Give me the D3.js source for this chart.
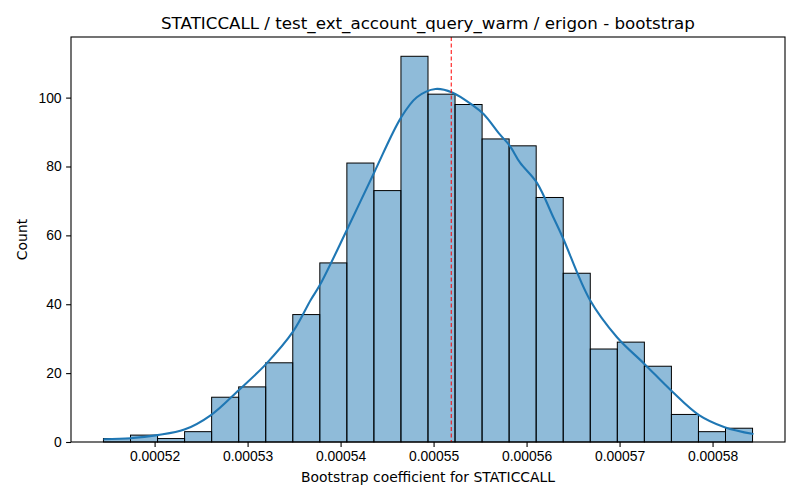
<!DOCTYPE html>
<html>
<head>
<meta charset="utf-8">
<script src="https://cdn.jsdelivr.net/npm/d3@7"></script>
<style>
  body { margin: 0; background: #fff; }
  svg { font-family: "DejaVu Sans", sans-serif; }
  .tick text { font-size: 13.9px; fill: #000; }
</style>
</head>
<body>
<svg id="chart" width="800" height="500"></svg>
<script>
// histogram: 24 equal bins between binLo and binHi
const binLo = 0.0005145;
const binHi = 0.0005843;
const counts = [1, 2, 1, 3, 13, 16, 23, 37, 52, 81, 73, 112,
                101, 98, 88, 86, 71, 49, 27, 29, 22, 8, 3, 4];

// kde curve
const kdeX = [0.0005145, 0.0005174, 0.0005203, 0.0005232, 0.0005261, 0.0005291,
              0.0005319, 0.0005349, 0.0005368, 0.0005378, 0.0005407, 0.0005436, 0.0005465,
              0.0005482, 0.0005502, 0.0005520, 0.0005543, 0.0005554, 0.0005571,
              0.0005582, 0.0005593, 0.0005611, 0.0005629, 0.0005639, 0.0005668,
              0.0005697, 0.0005727, 0.0005756, 0.0005785, 0.0005813, 0.0005844];
const kdeY = [0.8, 1.1, 2.0, 3.6, 7.9, 15.2,
              22.4, 32.1, 41.3, 45.7, 61.7, 78.2, 94.2,
              100.1, 102.5, 101.5, 97.6, 95.2, 89.4,
              86.0, 81.1, 75.3, 65.1, 59.3, 41.3,
              30.5, 22.6, 14.8, 7.9, 4.3, 2.3];

const meanValue = 0.0005519;

const xTicks = [0.00052, 0.00053, 0.00054, 0.00055, 0.00056, 0.00057, 0.00058];
const xTickLabels = ["0.00052", "0.00053", "0.00054", "0.00055", "0.00056", "0.00057", "0.00058"];
const yTicks = [0, 20, 40, 60, 80, 100];

const title = "STATICCALL / test_ext_account_query_warm / erigon - bootstrap";
const xLabel = "Bootstrap coefficient for STATICCALL";
const yLabel = "Count";

const LEFT = 71, RIGHT = 785, TOP = 37, BOTTOM = 442;
const BLUE = "#1f77b4";

const svg = d3.select("#chart");

// ── Scales ──
const pad = (binHi - binLo) * 0.05;
const x = d3.scaleLinear().domain([binLo - pad, binHi + pad]).range([LEFT, RIGHT]);
const y = d3.scaleLinear().domain([0, d3.max(counts) * 1.05]).range([BOTTOM, TOP]);

const binW = (binHi - binLo) / counts.length;

// ── Bars ──
svg.append("g")
  .selectAll("rect")
  .data(counts)
  .join("rect")
  .attr("x", (d, i) => x(binLo + i * binW))
  .attr("y", d => y(d))
  .attr("width", (d, i) => x(binLo + (i + 1) * binW) - x(binLo + i * binW))
  .attr("height", d => y(0) - y(d))
  .attr("fill", BLUE)
  .attr("fill-opacity", 0.5)
  .attr("stroke", "#000")
  .attr("stroke-width", 1);

// ── KDE line ──
const line = d3.line()
  .x(d => x(d[0]))
  .y(d => y(d[1]))
  .curve(d3.curveCatmullRom);

svg.append("path")
  .datum(kdeX.map((v, i) => [v, kdeY[i]]))
  .attr("fill", "none")
  .attr("stroke", BLUE)
  .attr("stroke-width", 2.1)
  .attr("d", line);

// ── Mean marker ──
svg.append("line")
  .attr("x1", x(meanValue)).attr("x2", x(meanValue))
  .attr("y1", TOP).attr("y2", BOTTOM)
  .attr("stroke", "#ff0000")
  .attr("stroke-width", 1)
  .attr("stroke-dasharray", "4,2.5");

// ── Axes ──
const xAxis = d3.axisBottom(x)
  .tickValues(xTicks)
  .tickFormat((d, i) => xTickLabels[i])
  .tickSize(4.9)
  .tickPadding(4.5);
const gx = svg.append("g")
  .attr("transform", `translate(0,${BOTTOM})`)
  .call(xAxis);
gx.select(".domain").remove();

const yAxis = d3.axisLeft(y)
  .tickValues(yTicks)
  .tickSize(4.9)
  .tickPadding(4.5);
const gy = svg.append("g")
  .attr("transform", `translate(${LEFT},0)`)
  .call(yAxis);
gy.select(".domain").remove();

svg.selectAll(".tick line").attr("stroke", "#000").attr("stroke-width", 1.1);

// frame
svg.append("rect")
  .attr("x", LEFT).attr("y", TOP)
  .attr("width", RIGHT - LEFT).attr("height", BOTTOM - TOP)
  .attr("fill", "none")
  .attr("stroke", "#000")
  .attr("stroke-width", 1.1);

// ── Labels ──
svg.append("text")
  .attr("x", (LEFT + RIGHT) / 2)
  .attr("y", 29)
  .attr("text-anchor", "middle")
  .attr("font-size", "16.7px")
  .text(title);

svg.append("text")
  .attr("x", (LEFT + RIGHT) / 2)
  .attr("y", 482)
  .attr("text-anchor", "middle")
  .attr("font-size", "13.9px")
  .text(xLabel);

svg.append("text")
  .attr("transform", `translate(27,${(TOP + BOTTOM) / 2}) rotate(-90)`)
  .attr("text-anchor", "middle")
  .attr("font-size", "13.9px")
  .text(yLabel);
</script>
</body>
</html>
